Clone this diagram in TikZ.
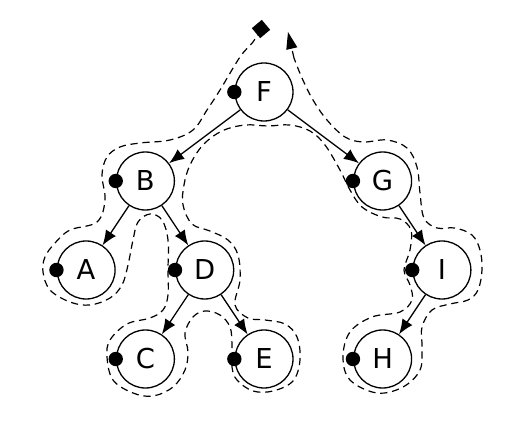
\documentclass[tikz,border=0pt]{standalone}
\usepackage{fontspec}
\setmainfont{DejaVu Sans}
\usepackage{tikz}
\usetikzlibrary{arrows.meta, positioning}

\begin{document}
\begin{tikzpicture}[
    x=0.5pt, y=-0.5pt,
    node distance=44.5pt and 29.65pt, on grid,
    treenode/.style={circle, draw, line width=0.65pt, minimum size=29pt, inner sep=0pt, font=\fontsize{13.7}{16}\selectfont},
    edge/.style={-{Latex[length=7.5pt, width=6pt]}, line width=0.65pt},
    visit/.style={circle, fill=black, minimum size=7.2pt, inner sep=0pt},
    contour/.style={dash pattern=on 3.6pt off 2.4pt, line width=0.6pt},
]
\useasboundingbox (0,0) rectangle (527,428);

% Row 1: root
\node[treenode] (F) at (264,92) {F};

% Row 2
\node[treenode, below left=44.5pt and 59.3pt of F] (B) {B};
\node[treenode, below right=44.5pt and 59.3pt of F] (G) {G};
\draw[edge] (F) -- (B);
\draw[edge] (F) -- (G);

% Row 3
\node[treenode, below left=of B] (A) {A};
\node[treenode, below right=of B] (D) {D};
\node[treenode, below right=of G] (I) {I};
\draw[edge] (B) -- (A);
\draw[edge] (B) -- (D);
\draw[edge] (G) -- (I);

% Row 4
\node[treenode, below left=of D] (C) {C};
\node[treenode, below right=of D] (E) {E};
\node[treenode, below left=of I] (H) {H};
\draw[edge] (D) -- (C);
\draw[edge] (D) -- (E);
\draw[edge] (I) -- (H);

% Pre-order marks on the left of each node
\foreach \n in {F,B,A,D,C,E,G,I,H}
    \node[visit] at (\n.west) {};

% Walk around the tree
\node[fill=black, rotate=40, minimum size=6.5pt, inner sep=0pt] (start) at (261,29) {};
\coordinate (last) at (294,58);
\coordinate (finish) at (288,32);
\draw[contour] plot[smooth, tension=0.6] coordinates {
    (start.center) (253,42) (240,57) (220,90) (207,110) (193,130) (170,140)
    (140,143) (120,147) (107,157) (102,175) (105,200) (97,222) (70,230)
    (55,243) (45,257) (43,272) (50,290) (70,302) (90,305) (110,298)
    (122,285) (128,265) (133,240) (138,222) (150,214) (162,220) (168,240)
    (168,270) (168,295) (163,310) (150,318) (127,324) (110,340) (107,357)
    (113,380) (133,393) (153,396) (173,387) (185,370) (188,352) (185,333)
    (193,317) (205,311) (220,315) (230,327) (232,345) (232,367) (237,380)
    (253,391) (273,391) (293,381) (300,360) (297,337) (285,324) (265,320)
    (248,318) (235,305) (240,280) (238,255) (228,240) (210,231) (192,224)
    (183,205) (184,185) (190,165) (203,145) (222,131) (245,125) (268,126)
    (290,125) (310,131) (325,145) (340,170) (350,190) (362,207) (382,217)
    (400,219) (411,230) (410,250) (404,270) (410,285) (412,300) (400,312)
    (372,317) (350,332) (343,357) (350,380) (377,393) (403,387) (420,370)
    (422,347) (422,327) (432,310) (450,304) (468,300) (478,290) (482,270)
    (480,250) (472,235) (455,228) (437,228) (424,218) (420,193) (417,167)
    (407,148) (387,140) (363,142) (345,137) (327,120) (313,100) (302,78)
    (last)
};
\draw[contour, -{Triangle[length=8.5pt, width=5.5pt]}] (last) -- (finish);
\end{tikzpicture}
\end{document}
